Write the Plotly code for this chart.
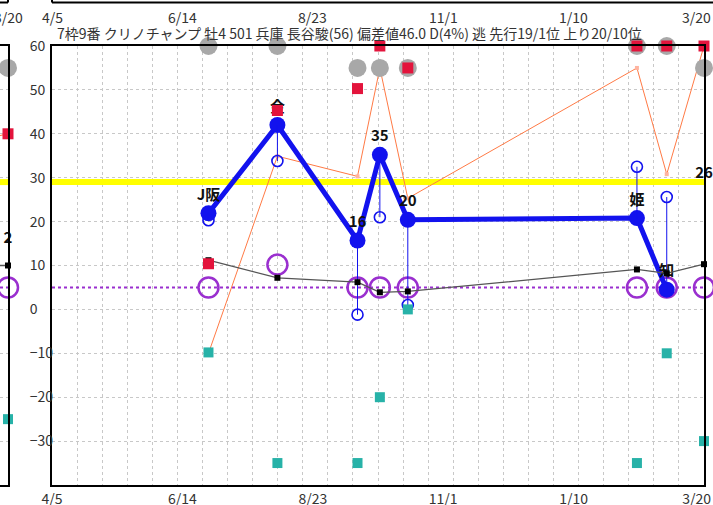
import plotly.graph_objects as go

# race dates (this season) and the values
race_dates = ['2023-06-28', '2023-08-04', '2023-09-16', '2023-09-28',
              '2023-10-13', '2024-02-13', '2024-02-29', '2024-03-20']
blue = [21.9, 42.0, 15.7, 35.2, 20.4, 20.8, 4.5, None]
blue_open = [20.3, 33.8, -1.2, 21.0, 1.0, 32.5, 25.6, None]
labels = ['J阪', '金', '16', '35', '20', '姫', '知', '26']
label_y = [21.9, 42.0, 15.7, 35.2, 20.4, 20.8, 4.5, 26.8]
orange = [-10, 34.9, 30.3, 55, 25.3, 55, 30.8, 60]
black = [11.2, 7.2, 6.2, 3.9, 4.1, 9.1, 8.2, 10.3]
red = [10.4, 45.3, 50.3, 60, 55, 60, 60, 60]
gray = [60, 60, 55, 55, 55, 60, 60, 55]
teal = [-9.8, -35, -35, -20, 0, -35, -10, -30]
purple = [5, 10.2, 5, 5, 5, 5, 5, 5]

# neighbouring chart on the left (only its last race is visible)
prev_dates = ['2023-02-28', '2023-03-20']
prev_black = [10, 10]
prev_orange = [38, 40]
prev_red = [40]
prev_gray = [55]
prev_teal = [-25]
prev_purple = [5]
prev_label = ['2']
prev_label_y = [12.1]

avg_line = 29.0
base_line = 5.0

x_range = ['2023-04-05', '2024-03-20']
prev_range = ['2023-03-16', '2023-03-20']
tick_dates = ['2023-04-05', '2023-06-14', '2023-08-23', '2023-11-01', '2024-01-10', '2024-03-16']
tick_text = ['4/5', '6/14', '8/23', '11/1', '1/10', '3/20']
y_ticks = list(range(-30, 61, 10))

title = '7枠9番 クリノチャンプ 牡4 501 兵庫 長谷駿(56) 偏差値46.0 D(4%) 逃 先行19/1位 上り20/10位'

FONT = 'Noto Sans CJK JP'
BLUE = '#1212ee'
RED = '#e3143c'
TEAL = '#27b2a8'
GRAY = '#a8a8a8'
PURPLE = '#9a2fcf'
ORANGE = '#ff7a45'

fig = go.Figure()


def add_set(dates, rng, xa, ya, blk, org, rd, gr, tl, pu, bl=None, blo=None, lab=None, laby=None):
    mdates = dates[-len(rd):]
    # reference lines
    fig.add_trace(go.Scatter(x=rng, y=[avg_line, avg_line], mode='lines', xaxis=xa, yaxis=ya,
                             line=dict(color='#ffff00', width=6)))
    fig.add_trace(go.Scatter(x=rng, y=[base_line, base_line], mode='lines', xaxis=xa, yaxis=ya,
                             line=dict(color=PURPLE, width=2, dash='dot')))
    fig.add_trace(go.Scatter(x=mdates[-len(pu):], y=pu, mode='markers', xaxis=xa, yaxis=ya, cliponaxis=False,
                             marker=dict(symbol='circle-open', size=20, color=PURPLE, line=dict(width=2.5))))
    fig.add_trace(go.Scatter(x=dates, y=org, mode='lines+markers', xaxis=xa, yaxis=ya,
                             line=dict(color=ORANGE, width=1),
                             marker=dict(symbol='square', size=4, color='#ffb4a0')))
    if bl is not None:
        fig.add_trace(go.Scatter(x=dates, y=bl, mode='lines+markers', xaxis=xa, yaxis=ya, cliponaxis=False,
                                 line=dict(color=BLUE, width=5),
                                 marker=dict(size=16, color=BLUE)))
        vx, vy = [], []
        for d, a, b in zip(dates, bl, blo):
            if a is None or b is None:
                continue
            vx += [d, d, None]
            vy += [a, b, None]
        fig.add_trace(go.Scatter(x=vx, y=vy, mode='lines', xaxis=xa, yaxis=ya,
                                 line=dict(color=BLUE, width=1)))
        fig.add_trace(go.Scatter(x=dates, y=blo, mode='markers', xaxis=xa, yaxis=ya, cliponaxis=False,
                                 marker=dict(symbol='circle-open', size=11, color=BLUE, line=dict(width=1.6))))
    if lab is not None:
        fig.add_trace(go.Scatter(x=mdates[-len(lab):], y=laby, mode='markers+text', xaxis=xa, yaxis=ya,
                                 cliponaxis=False, text=['<b>%s</b>' % t for t in lab],
                                 textposition='top center',
                                 textfont=dict(family=FONT, size=15, color='#111'),
                                 marker=dict(size=14, opacity=0)))
    fig.add_trace(go.Scatter(x=dates, y=blk, mode='lines', xaxis=xa, yaxis=ya,
                             line=dict(color='#555555', width=1.3)))
    fig.add_trace(go.Scatter(x=mdates[-len(rd):], y=blk[-len(rd):], mode='markers', xaxis=xa, yaxis=ya,
                             cliponaxis=False, marker=dict(symbol='square', size=6, color='black')))
    fig.add_trace(go.Scatter(x=mdates[-len(tl):], y=tl, mode='markers', xaxis=xa, yaxis=ya, cliponaxis=False,
                             marker=dict(symbol='square', size=10, color=TEAL)))
    fig.add_trace(go.Scatter(x=mdates[-len(gr):], y=gr, mode='markers', xaxis=xa, yaxis=ya, cliponaxis=False,
                             marker=dict(size=18, color=GRAY)))
    fig.add_trace(go.Scatter(x=mdates[-len(rd):], y=rd, mode='markers', xaxis=xa, yaxis=ya, cliponaxis=False,
                             marker=dict(symbol='square', size=11, color=RED)))


add_set(race_dates, x_range, 'x', 'y', black, orange, red, gray, teal, purple, blue, blue_open, labels, label_y)
add_set(prev_dates, prev_range, 'x2', 'y2', prev_black, prev_orange, prev_red, prev_gray, prev_teal, prev_purple,
        lab=prev_label, laby=prev_label_y)

W = 704.0
H = 439.0
tickfont = dict(family=FONT, size=14, color='#333333')
grid = dict(showgrid=True, gridcolor='#c8c8c8', griddash='dot', gridwidth=1)

fig.update_layout(
    width=713, height=505,
    margin=dict(l=0, r=9, t=46, b=20),
    paper_bgcolor='white', plot_bgcolor='white',
    showlegend=False,
    font=dict(family=FONT, color='#333333'),
    xaxis=dict(domain=[52 / W, 1], anchor='y', type='date', range=x_range,
               tickvals=tick_dates, ticktext=tick_text, tickfont=tickfont,
               showgrid=False, ticks='', zeroline=False, automargin=False,
               showline=True, linecolor='black', linewidth=2, mirror=True,
               minor=dict(tick0=x_range[0], dtick=350 / 26 * 86400000, ticks='', **grid)),
    yaxis=dict(anchor='x', range=[-40, 60], tickvals=y_ticks, showticklabels=False,
               ticks='', zeroline=False, automargin=False,
               showline=True, linecolor='black', linewidth=2, mirror=True, **grid),
    xaxis2=dict(domain=[0, 8 / W], anchor='y2', type='date', range=prev_range,
                tickvals=[prev_range[1]], ticktext=['3/20'], tickfont=tickfont,
                showgrid=False, ticks='', zeroline=False, automargin=False,
                showline=True, linecolor='black', linewidth=2, mirror=True),
    # the value labels sit left-aligned just right of the left panel
    yaxis2=dict(anchor='x2', range=[-40, 60], tickvals=y_ticks, side='right',
                tickfont=tickfont, ticks='outside', ticklen=17, tickcolor='rgba(0,0,0,0)',
                zeroline=False, automargin=False,
                showline=True, linecolor='black', linewidth=2, **grid),
)

# date labels along the top edge
for xr, vals, texts in (('x', tick_dates, tick_text), ('x2', [prev_range[1]], ['3/20'])):
    for v, t in zip(vals, texts):
        fig.add_annotation(text=t, xref=xr, yref='paper', x=v, y=(485 - 17) / H,
                           xanchor='center', yanchor='middle', showarrow=False, font=tickfont)

# bottom borders of the charts above (cut off by the frame)
top_y = (485 - 2.5) / H
for x0, x1 in ((52 / W, 713 / W), (-0.02, 8 / W)):
    fig.add_shape(type='line', xref='paper', yref='paper', x0=x0, x1=x1, y0=top_y, y1=top_y,
                  line=dict(color='black', width=2))
for xv in (52 / W, 8 / W):
    fig.add_shape(type='line', xref='paper', yref='paper', x0=xv, x1=xv, y0=top_y, y1=top_y + 0.02,
                  line=dict(color='black', width=2))

fig.add_annotation(text=title, xref='paper', yref='paper', x=55 / W, y=(485 - 33) / H,
                   xanchor='left', yanchor='middle', showarrow=False,
                   font=dict(family=FONT, size=14, color='#333333'))

fig.write_html('out.html', config={'displayModeBar': False},
               post_script="document.body.style.margin='0';")
